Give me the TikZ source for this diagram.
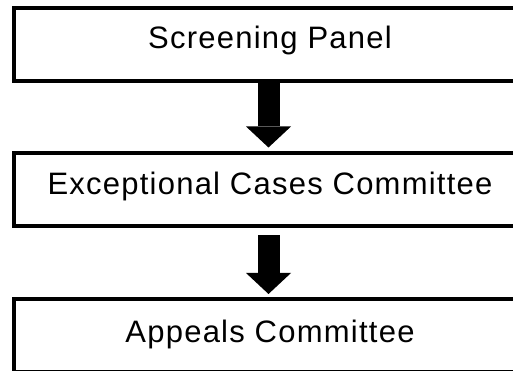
\documentclass[tikz,border=0pt]{standalone}
\usepackage{fontspec}
\setmainfont{Liberation Sans}[LetterSpace=4.0]
\usetikzlibrary{arrows.meta}
\begin{document}
\begin{tikzpicture}[x=1pt,y=1pt,
  box/.style={draw=black, line width=4pt, rectangle, minimum width=512pt,
    minimum height=73pt, inner sep=0pt, font=\fontsize{31pt}{36pt}\selectfont,
    text height=22pt},
  flow/.style={draw=black, line width=22pt,
    -{Triangle[width=45pt,length=21pt,line width=0pt]}}]
\useasboundingbox (0,0) rectangle (513,371);
\node[box, text depth=13pt] (b1) at (270,326.5) {Screening Panel};
\node[box, text depth=13pt] (b2) at (270,181) {Exceptional Cases Committee};
\node[box, text depth=7pt] (b3) at (270,35.5) {Appeals Committee};
\draw[flow, shorten >=4pt] ([xshift=-1.5pt]b1.south) -- ([xshift=-1.5pt]b2.north);
\draw[flow, shorten <=6.7pt, shorten >=3pt] ([xshift=-1.5pt]b2.south) -- ([xshift=-1.5pt]b3.north);
\end{tikzpicture}
\end{document}
